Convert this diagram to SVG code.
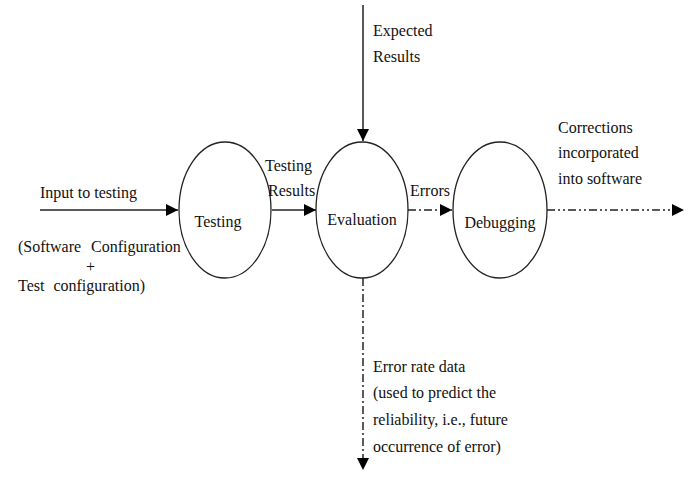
<svg xmlns="http://www.w3.org/2000/svg" width="691" height="477" viewBox="0 0 691 477" font-family="Liberation Serif, DejaVu Serif, serif" font-size="16">
<defs>
<marker id="ah" viewBox="0 0 12 12" refX="12" refY="6" markerWidth="12" markerHeight="12" markerUnits="userSpaceOnUse" orient="auto">
<path d="M0,0 L12,6 L0,12 Z" fill="#000"/>
</marker>
</defs>
<style>
.node ellipse{fill:#fff;stroke:#222;stroke-width:1.3}
.c line{stroke:#222;stroke-width:1.5;fill:none}
.dd{stroke-dasharray:8 3 2 3}
.ddd{stroke-dasharray:8 3 2 3 2 3}
.t{fill:#111}
</style>
<rect width="691" height="477" fill="#fff"/>
<g id="connectors" class="c">
<line x1="40" y1="210" x2="178" y2="210" marker-end="url(#ah)"/>
<line x1="272" y1="210" x2="316" y2="210" marker-end="url(#ah)"/>
<line x1="408" y1="210" x2="452" y2="210" class="dd" marker-end="url(#ah)"/>
<line x1="547" y1="210" x2="684" y2="210" class="ddd" marker-end="url(#ah)"/>
<line x1="363" y1="5" x2="363" y2="141" marker-end="url(#ah)"/>
<line x1="363" y1="278" x2="363" y2="470" class="dd" marker-end="url(#ah)"/>
</g>
<g id="testing" class="node">
<ellipse cx="225" cy="210" rx="46" ry="68"/>
<text class="t" x="218" y="227" text-anchor="middle">Testing</text>
</g>
<g id="evaluation" class="node">
<ellipse cx="362" cy="210" rx="46" ry="68"/>
<text class="t" x="362" y="225" text-anchor="middle">Evaluation</text>
</g>
<g id="debugging" class="node">
<ellipse cx="500" cy="210" rx="47" ry="68"/>
<text class="t" x="500" y="228" text-anchor="middle">Debugging</text>
</g>
<g id="labels" class="t">
<text x="40" y="198">Input to testing</text>
<text x="18" y="252" word-spacing="6">(Software Configuration</text>
<text x="86" y="272">+</text>
<text x="18" y="291" word-spacing="5">Test configuration)</text>
<text x="265" y="171">Testing</text>
<text x="268" y="196">Results</text>
<text x="410" y="196">Errors</text>
<text x="373" y="36">Expected</text>
<text x="373" y="62">Results</text>
<text x="558" y="133">Corrections</text>
<text x="558" y="158">incorporated</text>
<text x="558" y="184">into software</text>
<text x="373" y="372">Error rate data</text>
<text x="373" y="398">(used to predict the</text>
<text x="373" y="425">reliability, i.e., future</text>
<text x="373" y="452">occurrence of error)</text>
</g>
</svg>
